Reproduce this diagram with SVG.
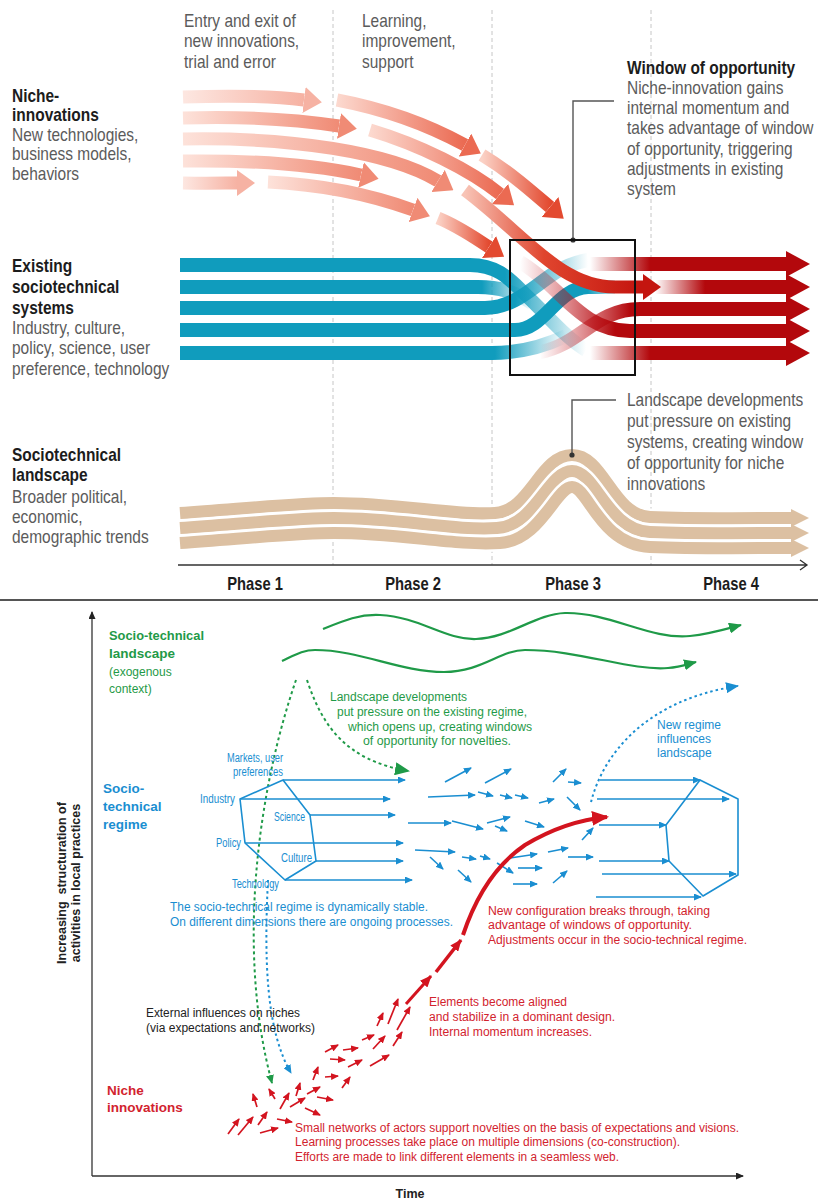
<svg xmlns="http://www.w3.org/2000/svg" width="818" height="1200" viewBox="0 0 818 1200">
<style>
text{font-family:"Liberation Sans",Arial,sans-serif}
.cap{font-size:18px;fill:#5b5b5b}
.hd{font-size:18px;font-weight:bold;fill:#1c1c1c}
.pl{stroke:#c6c6c6;stroke-width:1;stroke-dasharray:4 3}
.leader{fill:none;stroke:#555;stroke-width:1.4}
.band{fill:none;stroke-width:14}
.row{fill:none;stroke-width:14;marker-end:url(#hRow)}
.ni{fill:none;stroke-width:13}
.lgap{fill:none;stroke:#fff;stroke-width:17}
.land{fill:none;stroke:#dcc0a2;stroke-width:12;marker-end:url(#hLand)}
.sm{font-size:12px}
.b13{font-size:13.5px;font-weight:bold}
.b12{font-size:12.5px;font-weight:bold}
.g{fill:#1f9a48}.bl{fill:#1a8ed1}.rd{fill:#d2232e}.bk{fill:#222}
.hex{fill:none;stroke:#1a8ed1;stroke-width:1.6;stroke-linejoin:round}
.ba{fill:none;stroke:#1a8ed1;stroke-width:1.6;marker-end:url(#aBl)}
.ra{fill:none;stroke:#d3141f;stroke-width:1.7;marker-end:url(#aRd)}
.gw{fill:none;stroke:#1f9a48;stroke-width:2.2;marker-end:url(#aGw)}
.gd{fill:none;stroke:#1f9a48;stroke-width:2;stroke-dasharray:3 3}
.bd{fill:none;stroke:#1a8ed1;stroke-width:2;stroke-dasharray:2.5 3}
.axis{fill:none;stroke:#333;stroke-width:1.3}
</style>
<defs>
  <!-- niche-innovation arrow fills -->
  <linearGradient id="gA"><stop offset="0" stop-color="#fde7e1"/><stop offset="1" stop-color="#f6b2a3"/></linearGradient>
  <linearGradient id="gB"><stop offset="0" stop-color="#fde2da"/><stop offset="1" stop-color="#f08b75"/></linearGradient>
  <linearGradient id="gC"><stop offset="0" stop-color="#fcd9cf"/><stop offset="1" stop-color="#eb6a52"/></linearGradient>
  <linearGradient id="gD"><stop offset="0" stop-color="#fbd2c6"/><stop offset="1" stop-color="#e34a30"/></linearGradient>
  <linearGradient id="gE" gradientUnits="userSpaceOnUse" x1="183" y1="0" x2="237" y2="0"><stop offset="0" stop-color="#fde7e1"/><stop offset="1" stop-color="#f6b2a3"/></linearGradient>
  <linearGradient id="gJ" gradientUnits="userSpaceOnUse" x1="465" y1="0" x2="640" y2="0"><stop offset="0" stop-color="#f8c4b6"/><stop offset="0.45" stop-color="#e0452e"/><stop offset="1" stop-color="#c4150f"/></linearGradient>
  <!-- regime rows fading in -->
  <linearGradient id="r1" gradientUnits="userSpaceOnUse" x1="590" y1="0" x2="650" y2="0"><stop offset="0" stop-color="#b3080c" stop-opacity="0"/><stop offset="1" stop-color="#b3080c"/></linearGradient>
  <linearGradient id="r2" gradientUnits="userSpaceOnUse" x1="655" y1="0" x2="705" y2="0"><stop offset="0" stop-color="#b3080c" stop-opacity="0"/><stop offset="1" stop-color="#b3080c"/></linearGradient>
  <linearGradient id="r3" gradientUnits="userSpaceOnUse" x1="540" y1="0" x2="630" y2="0"><stop offset="0" stop-color="#c8202a" stop-opacity="0"/><stop offset="1" stop-color="#b3080c"/></linearGradient>
  <linearGradient id="r4" gradientUnits="userSpaceOnUse" x1="520" y1="0" x2="615" y2="0"><stop offset="0" stop-color="#c8202a" stop-opacity="0"/><stop offset="1" stop-color="#b3080c"/></linearGradient>
  <!-- existing system rows fading out -->
  <linearGradient id="b1" gradientUnits="userSpaceOnUse" x1="505" y1="0" x2="586" y2="0"><stop offset="0" stop-color="#109cbd"/><stop offset="1" stop-color="#109cbd" stop-opacity="0"/></linearGradient>
  <linearGradient id="b2" gradientUnits="userSpaceOnUse" x1="482" y1="0" x2="532" y2="0"><stop offset="0" stop-color="#109cbd"/><stop offset="1" stop-color="#109cbd" stop-opacity="0"/></linearGradient>
  <linearGradient id="b3" gradientUnits="userSpaceOnUse" x1="515" y1="0" x2="588" y2="0"><stop offset="0" stop-color="#109cbd"/><stop offset="1" stop-color="#109cbd" stop-opacity="0"/></linearGradient>
  <linearGradient id="b4" gradientUnits="userSpaceOnUse" x1="588" y1="0" x2="615" y2="0"><stop offset="0" stop-color="#109cbd"/><stop offset="1" stop-color="#109cbd" stop-opacity="0.2"/></linearGradient>
  <linearGradient id="b5" gradientUnits="userSpaceOnUse" x1="495" y1="0" x2="566" y2="0"><stop offset="0" stop-color="#109cbd"/><stop offset="1" stop-color="#109cbd" stop-opacity="0"/></linearGradient>

  <marker id="hA" viewBox="0 0 18 26" refX="0" refY="13" markerWidth="18" markerHeight="26" markerUnits="userSpaceOnUse" orient="auto"><path d="M0,0 L18,13 L0,26z" fill="#f6b2a3"/></marker>
  <marker id="hB" viewBox="0 0 18 26" refX="0" refY="13" markerWidth="18" markerHeight="26" markerUnits="userSpaceOnUse" orient="auto"><path d="M0,0 L18,13 L0,26z" fill="#f08b75"/></marker>
  <marker id="hC" viewBox="0 0 18 26" refX="0" refY="13" markerWidth="18" markerHeight="26" markerUnits="userSpaceOnUse" orient="auto"><path d="M0,0 L18,13 L0,26z" fill="#eb6a52"/></marker>
  <marker id="hD" viewBox="0 0 18 26" refX="0" refY="13" markerWidth="18" markerHeight="26" markerUnits="userSpaceOnUse" orient="auto"><path d="M0,0 L18,13 L0,26z" fill="#e34a30"/></marker>
  <marker id="hJ" viewBox="0 0 18 26" refX="0" refY="13" markerWidth="18" markerHeight="26" markerUnits="userSpaceOnUse" orient="auto"><path d="M0,0 L18,13 L0,26z" fill="#c4150f"/></marker>
  <marker id="hRow" viewBox="0 0 24 26" refX="0" refY="13" markerWidth="24" markerHeight="26" markerUnits="userSpaceOnUse" orient="auto"><path d="M0,0 L24,13 L0,26z" fill="#b3080c"/></marker>
  <marker id="hLand" viewBox="0 0 18 18" refX="0" refY="9" markerWidth="18" markerHeight="18" markerUnits="userSpaceOnUse" orient="auto"><path d="M0,0 L18,9 L0,18z" fill="#dcc0a2"/></marker>

  <marker id="aBl" viewBox="0 0 8 7" refX="7" refY="3.5" markerWidth="8" markerHeight="7" markerUnits="userSpaceOnUse" orient="auto"><path d="M0,0 L8,3.5 L0,7z" fill="#1a8ed1"/></marker>
  <marker id="aRd" viewBox="0 0 8 7" refX="7" refY="3.5" markerWidth="8" markerHeight="7" markerUnits="userSpaceOnUse" orient="auto"><path d="M0,0 L8,3.5 L0,7z" fill="#d3141f"/></marker>
  <marker id="aGw" viewBox="0 0 13 11" refX="12" refY="5.5" markerWidth="13" markerHeight="11" markerUnits="userSpaceOnUse" orient="auto"><path d="M0,0 L13,5.5 L0,11z" fill="#1f9a48"/></marker>
  <marker id="aGd1" viewBox="0 0 15 13" refX="13" refY="6.5" markerWidth="15" markerHeight="13" markerUnits="userSpaceOnUse" orient="auto"><path d="M0,0 L15,6.5 L0,13z" fill="#1f9a48"/></marker>
  <marker id="aGd2" viewBox="0 0 9 8" refX="8" refY="4" markerWidth="9" markerHeight="8" markerUnits="userSpaceOnUse" orient="auto"><path d="M0,0 L9,4 L0,8z" fill="#1f9a48"/></marker>
  <marker id="aBd1" viewBox="0 0 13 11" refX="12" refY="5.5" markerWidth="13" markerHeight="11" markerUnits="userSpaceOnUse" orient="auto"><path d="M0,0 L13,5.5 L0,11z" fill="#1a8ed1"/></marker>
  <marker id="aBd2" viewBox="0 0 9 8" refX="8" refY="4" markerWidth="9" markerHeight="8" markerUnits="userSpaceOnUse" orient="auto"><path d="M0,0 L9,4 L0,8z" fill="#1a8ed1"/></marker>
  <marker id="aRb" viewBox="0 0 17 15" refX="15" refY="7.5" markerWidth="17" markerHeight="15" markerUnits="userSpaceOnUse" orient="auto"><path d="M0,0 L17,7.5 L0,15z" fill="#d3141f"/></marker>
  <marker id="aRm" viewBox="0 0 12 10" refX="11" refY="5" markerWidth="12" markerHeight="10" markerUnits="userSpaceOnUse" orient="auto"><path d="M0,0 L12,5 L0,10z" fill="#d3141f"/></marker>
  <marker id="aAx" viewBox="0 0 8 7" refX="7" refY="3.5" markerWidth="8" markerHeight="7" markerUnits="userSpaceOnUse" orient="auto"><path d="M0,0 L8,3.5 L0,7z" fill="#222"/></marker>
</defs>

<rect width="818" height="1200" fill="#fff"/>

<!-- ===== Upper panel: multi-level perspective by phase ===== -->
<g id="phase-grid">
  <line class="pl" x1="333" y1="10" x2="333" y2="565"/>
  <line class="pl" x1="492" y1="10" x2="492" y2="565"/>
  <line class="pl" x1="651" y1="10" x2="651" y2="565"/>
</g>

<g id="connectors-top">
  <!-- existing sociotechnical systems -->
  <path class="band" stroke="url(#b1)" d="M180,265 H470 C500,265 512,282 528,297 C548,316 566,338 586,350"/>
  <path class="band" stroke="url(#b2)" d="M180,287 H478 C500,287 515,292 532,303"/>
  <path class="band" stroke="url(#b3)" d="M180,308 H485 C515,308 535,285 556,272 C566,266 576,262 588,260"/>
  <path class="band" stroke="url(#b4)" d="M180,330 H515 C545,330 556,288 588,287 H615"/>
  <path class="band" stroke="url(#b5)" d="M180,353 H492 C520,353 545,346 566,336"/>
  <!-- reconfigured system -->
  <path class="row" stroke="url(#r1)" d="M590,264 H786"/>
  <path class="row" stroke="url(#r2)" d="M655,287 H786"/>
  <path class="row" stroke="url(#r3)" d="M540,352 C580,345 595,309 640,309 H786"/>
  <path class="row" stroke="url(#r4)" d="M520,262 C560,285 580,331 630,331 H786"/>
  <path class="row" stroke="url(#r1)" d="M590,353 H786"/>
  <!-- niche-innovations -->
  <path class="ni" stroke="url(#gA)" marker-end="url(#hA)" d="M183,97 C240,95 280,97 304,100"/>
  <path class="ni" stroke="url(#gB)" marker-end="url(#hB)" d="M183,118 C250,116 300,120 339,126"/>
  <path class="ni" stroke="url(#gB)" marker-end="url(#hB)" d="M183,139 C290,137 390,152 438,181"/>
  <path class="ni" stroke="url(#gB)" marker-end="url(#hB)" d="M183,161 C260,160 320,166 361,175"/>
  <path class="ni" stroke="url(#gE)" marker-end="url(#hA)" d="M183,183 C210,183.5 225,183 237,183"/>
  <path class="ni" stroke="url(#gB)" marker-end="url(#hB)" d="M268,182 C330,185 380,198 413,210"/>
  <path class="ni" stroke="url(#gC)" marker-end="url(#hC)" d="M337,100 C390,110 430,126 465,145"/>
  <path class="ni" stroke="url(#gC)" marker-end="url(#hC)" d="M370,130 C420,145 470,170 500,194"/>
  <path class="ni" stroke="url(#gD)" marker-end="url(#hD)" d="M482,155 C510,172 530,190 550,207"/>
  <path class="ni" stroke="url(#gD)" marker-end="url(#hD)" d="M438,218 C458,226 475,238 489,247"/>
  <path class="ni" stroke="url(#gJ)" marker-end="url(#hJ)" d="M465,190 C525,235 560,287 615,287 L643,287"/>
  <!-- sociotechnical landscape -->
  <path class="lgap" d="M180,513 C250,508 300,503 334,503 C400,503 455,516 495,513 C530,511 540,455 572,455 C604,455 612,515 650,517 C700,519 750,518 791,518"/>
  <path class="land" d="M180,513 C250,508 300,503 334,503 C400,503 455,516 495,513 C530,511 540,455 572,455 C604,455 612,515 650,517 C700,519 750,518 791,518"/>
  <path class="lgap" d="M180,528 C250,523 300,518 334,518 C400,518 455,531 497,528 C535,526 548,471 572,471 C596,471 607,530 650,532 C700,534 750,533 791,533"/>
  <path class="land" d="M180,528 C250,523 300,518 334,518 C400,518 455,531 497,528 C535,526 548,471 572,471 C596,471 607,530 650,532 C700,534 750,533 791,533"/>
  <path class="lgap" d="M180,543 C250,538 300,533 334,533 C400,533 455,546 500,543 C540,541 556,487 572,487 C588,487 600,545 650,547 C700,549 750,548 791,548"/>
  <path class="land" d="M180,543 C250,538 300,533 334,533 C400,533 455,546 500,543 C540,541 556,487 572,487 C588,487 600,545 650,547 C700,549 750,548 791,548"/>
  <!-- time axis -->
  <path class="axis" d="M178,565 H807 M800,560 L807,565 L800,570"/>
  <!-- leaders -->
  <path class="leader" d="M573,240 V101 H614"/>
  <circle cx="573" cy="240" r="2.6" fill="#333"/>
  <path class="leader" d="M572,455 V400 H616"/>
  <circle cx="572" cy="455" r="2.6" fill="#333"/>
</g>

<g id="window-box"><rect x="510" y="240" width="125" height="135" fill="none" stroke="#111" stroke-width="2"/></g>

<g id="entry-note"><text class="cap" transform="translate(184,27) scale(0.86,1)"><tspan x="0">Entry and exit of</tspan><tspan x="0" dy="20.5">new innovations,</tspan><tspan x="0" dy="20.5">trial and error</tspan></text></g>
<g id="learning-note"><text class="cap" transform="translate(362,27) scale(0.86,1)"><tspan x="0">Learning,</tspan><tspan x="0" dy="20.5">improvement,</tspan><tspan x="0" dy="20.5">support</tspan></text></g>

<g id="niche-label">
  <text class="hd" transform="translate(12,102) scale(0.86,1)"><tspan x="0">Niche-</tspan><tspan x="0" dy="19.5">innovations</tspan></text>
  <text class="cap" transform="translate(12,141) scale(0.86,1)"><tspan x="0">New technologies,</tspan><tspan x="0" dy="19.5">business models,</tspan><tspan x="0" dy="19.5">behaviors</tspan></text>
</g>
<g id="system-label">
  <text class="hd" transform="translate(12,272) scale(0.86,1)"><tspan x="0">Existing</tspan><tspan x="0" dy="20.8">sociotechnical</tspan><tspan x="0" dy="20.8">systems</tspan></text>
  <text class="cap" transform="translate(12,334) scale(0.86,1)"><tspan x="0">Industry, culture,</tspan><tspan x="0" dy="20.5">policy, science, user</tspan><tspan x="0" dy="20.5">preference, technology</tspan></text>
</g>
<g id="landscape-label">
  <text class="hd" transform="translate(12,461) scale(0.86,1)"><tspan x="0">Sociotechnical</tspan><tspan x="0" dy="20.5">landscape</tspan></text>
  <text class="cap" transform="translate(12,503) scale(0.86,1)"><tspan x="0">Broader political,</tspan><tspan x="0" dy="20">economic,</tspan><tspan x="0" dy="20">demographic trends</tspan></text>
</g>
<g id="window-note">
  <text class="hd" transform="translate(627,74) scale(0.86,1)">Window of opportunity</text>
  <text class="cap" transform="translate(627,94) scale(0.86,1)"><tspan x="0">Niche-innovation gains</tspan><tspan x="0" dy="20.2">internal momentum and</tspan><tspan x="0" dy="20.2">takes advantage of window</tspan><tspan x="0" dy="20.2">of opportunity, triggering</tspan><tspan x="0" dy="20.2">adjustments in existing</tspan><tspan x="0" dy="20.2">system</tspan></text>
</g>
<g id="landscape-note">
  <text class="cap" transform="translate(627,406) scale(0.86,1)"><tspan x="0">Landscape developments</tspan><tspan x="0" dy="21">put pressure on existing</tspan><tspan x="0" dy="21">systems, creating window</tspan><tspan x="0" dy="21">of opportunity for niche</tspan><tspan x="0" dy="21">innovations</tspan></text>
</g>
<g id="phases">
  <text class="hd" text-anchor="middle" transform="translate(255,590) scale(0.82,1)">Phase 1</text>
  <text class="hd" text-anchor="middle" transform="translate(413,590) scale(0.82,1)">Phase 2</text>
  <text class="hd" text-anchor="middle" transform="translate(573,590) scale(0.82,1)">Phase 3</text>
  <text class="hd" text-anchor="middle" transform="translate(731,590) scale(0.82,1)">Phase 4</text>
</g>

<line x1="0" y1="600" x2="818" y2="600" stroke="#555" stroke-width="2"/>

<!-- ===== Lower panel: transition pathway ===== -->
<g id="connectors-bottom">
  <path class="axis" marker-end="url(#aAx)" d="M92,1176 L92,612"/>
  <path class="axis" marker-end="url(#aAx)" d="M92,1176 L743,1176"/>
  <!-- landscape trends -->
  <path class="gw" d="M323,629 C345,620 360,614 380,615 C420,617 445,640 476,639 C510,638 535,614 565,613 C610,612 650,640 690,636 C710,634 726,629 741,625"/>
  <path class="gw" d="M282,661 C295,655 303,650 315,650 C360,650 400,672 444,672 C482,672 500,650 525,650 C580,650 630,671 668,668 C680,667 688,664 696,662"/>
  <path class="gd" marker-end="url(#aGd2)" d="M296,680 C258,790 236,950 272,1083"/>
  <path class="gd" marker-end="url(#aGd1)" d="M307,680 C322,725 345,760 408,771"/>
  <path class="bd" marker-end="url(#aBd1)" d="M591,802 C603,755 645,700 738,686"/>
  <path class="bd" marker-end="url(#aBd2)" d="M268,880 C264,960 266,1030 291,1073"/>
  <!-- regime dimensions -->
  <path class="hex" d="M283,780 L240,799 L245,843 L285,880 L316,861 L310,815 Z"/>
  <path class="ba" d="M283,780 H405"/>
  <path class="ba" d="M240,799 H390"/>
  <path class="ba" d="M310,815 H395"/>
  <path class="ba" d="M245,843 H403"/>
  <path class="ba" d="M316,861 H403"/>
  <path class="ba" d="M285,880 H412"/>
  <!-- regime in flux -->
  <path class="ba" d="M445,782 L471,768"/>
  <path class="ba" d="M485,783 L511,769"/>
  <path class="ba" d="M553,782 L566,769"/>
  <path class="ba" d="M568,782 L581,783"/>
  <path class="ba" d="M428,797 L475,795"/>
  <path class="ba" d="M478,792 L493,796"/>
  <path class="ba" d="M500,795 L512,798"/>
  <path class="ba" d="M515,795 L528,798"/>
  <path class="ba" d="M539,803 L554,799"/>
  <path class="ba" d="M567,797 L580,810"/>
  <path class="ba" d="M408,823 L451,823"/>
  <path class="ba" d="M452,821 L483,829"/>
  <path class="ba" d="M487,823 L510,817"/>
  <path class="ba" d="M495,826 L507,831"/>
  <path class="ba" d="M525,821 L544,827"/>
  <path class="ba" d="M582,840 L593,828"/>
  <path class="ba" d="M415,850 L455,852"/>
  <path class="ba" d="M430,857 L443,869"/>
  <path class="ba" d="M462,857 L476,859"/>
  <path class="ba" d="M480,856 L490,859"/>
  <path class="ba" d="M497,863 L513,873"/>
  <path class="ba" d="M510,858 L537,854"/>
  <path class="ba" d="M548,852 L568,848"/>
  <path class="ba" d="M568,857 L593,857"/>
  <path class="ba" d="M518,868 L542,868"/>
  <path class="ba" d="M458,870 L471,882"/>
  <path class="ba" d="M513,884 L537,884"/>
  <path class="ba" d="M553,883 L567,871"/>
  <!-- new regime -->
  <path class="hex" d="M700,780 L738,799 L738,875 L703,896 L669,861 L666,825 Z"/>
  <path class="ba" d="M600,780 H700"/>
  <path class="ba" d="M597,799 H729"/>
  <path class="ba" d="M599,825 H666"/>
  <path class="ba" d="M599,861 H669"/>
  <path class="ba" d="M602,874 H736"/>
  <path class="ba" d="M596,897 H701"/>
  <!-- niche activity -->
  <path class="ra" d="M228,1134 L239,1119"/>
  <path class="ra" d="M238,1135 L253,1117"/>
  <path class="ra" d="M258,1125 L267,1112"/>
  <path class="ra" d="M260,1133 L278,1128"/>
  <path class="ra" d="M277,1119 L292,1122"/>
  <path class="ra" d="M257,1107 L253,1094"/>
  <path class="ra" d="M275,1099 L269,1089"/>
  <path class="ra" d="M280,1109 L289,1093"/>
  <path class="ra" d="M290,1107 L305,1098"/>
  <path class="ra" d="M296,1096 L300,1083"/>
  <path class="ra" d="M307,1094 L320,1087"/>
  <path class="ra" d="M305,1108 L320,1115"/>
  <path class="ra" d="M317,1097 L333,1100"/>
  <path class="ra" d="M313,1080 L318,1067"/>
  <path class="ra" d="M325,1077 L338,1076"/>
  <path class="ra" d="M342,1088 L350,1077"/>
  <path class="ra" d="M325,1052 L338,1045"/>
  <path class="ra" d="M330,1059 L345,1060"/>
  <path class="ra" d="M343,1050 L358,1048"/>
  <path class="ra" d="M348,1067 L362,1060"/>
  <path class="ra" d="M362,1040 L374,1035"/>
  <path class="ra" d="M370,1066 L389,1055"/>
  <path class="ra" d="M373,1049 L385,1036"/>
  <path class="ra" d="M377,1026 L383,1013"/>
  <path class="ra" d="M388,1024 L398,999"/>
  <path class="ra" d="M393,1046 L402,1032"/>
  <path class="ra" d="M397,1030 L410,1007"/>
  <!-- breakthrough -->
  <path fill="none" stroke="#d3141f" stroke-width="3" marker-end="url(#aRm)" d="M406,1004 L431,976"/>
  <path fill="none" stroke="#d3141f" stroke-width="3.5" marker-end="url(#aRm)" d="M436,972 L461,940"/>
  <path fill="none" stroke="#d3141f" stroke-width="4" marker-end="url(#aRb)" d="M463,935 C478,890 500,862 525,845 C550,830 575,820 607,817"/>
</g>

<g id="axis-labels">
  <text class="b12 bk" text-anchor="middle" transform="translate(66,883) rotate(-90)">Increasing&#160; structuration of</text>
  <text class="b12 bk" text-anchor="middle" transform="translate(80,883) rotate(-90)">activities in local practices</text>
  <text class="b12 bk" text-anchor="middle" x="410" y="1198">Time</text>
</g>

<g id="landscape-level">
  <text class="b13 g" x="109" y="640" textLength="95" lengthAdjust="spacingAndGlyphs">Socio-technical</text>
  <text class="b13 g" x="109" y="658">landscape</text>
  <text class="sm g" x="109" y="676">(exogenous</text>
  <text class="sm g" x="109" y="693">context)</text>
</g>
<g id="landscape-pressure">
  <text class="sm g" x="330" y="701" textLength="137" lengthAdjust="spacingAndGlyphs">Landscape developments</text>
  <text class="sm g" x="337" y="716" textLength="190" lengthAdjust="spacingAndGlyphs">put pressure on the existing regime,</text>
  <text class="sm g" x="348" y="731" textLength="184" lengthAdjust="spacingAndGlyphs">which opens up, creating windows</text>
  <text class="sm g" x="363" y="745" textLength="148" lengthAdjust="spacingAndGlyphs">of opportunity for novelties.</text>
</g>
<g id="new-regime-note">
  <text class="sm bl" x="657" y="729">New regime</text>
  <text class="sm bl" x="657" y="743">influences</text>
  <text class="sm bl" x="657" y="757">landscape</text>
</g>
<g id="regime-level">
  <text class="b13 bl" x="103" y="793">Socio-</text>
  <text class="b13 bl" x="103" y="811">technical</text>
  <text class="b13 bl" x="103" y="829">regime</text>
</g>
<g id="regime-dimensions">
  <text class="sm bl" x="255" y="762" text-anchor="middle" textLength="56" lengthAdjust="spacingAndGlyphs">Markets, user</text>
  <text class="sm bl" x="258" y="776" text-anchor="middle" textLength="50" lengthAdjust="spacingAndGlyphs">preferences</text>
  <text class="sm bl" x="200" y="803" textLength="35" lengthAdjust="spacingAndGlyphs">Industry</text>
  <text class="sm bl" x="274" y="821" textLength="31" lengthAdjust="spacingAndGlyphs">Science</text>
  <text class="sm bl" x="216" y="847" textLength="25" lengthAdjust="spacingAndGlyphs">Policy</text>
  <text class="sm bl" x="281" y="862" textLength="31" lengthAdjust="spacingAndGlyphs">Culture</text>
  <text class="sm bl" x="232" y="888" textLength="47" lengthAdjust="spacingAndGlyphs">Technology</text>
</g>
<g id="regime-note">
  <text class="sm bl" x="170" y="911" textLength="258" lengthAdjust="spacingAndGlyphs">The socio-technical regime is dynamically stable.</text>
  <text class="sm bl" x="170" y="926" textLength="283" lengthAdjust="spacingAndGlyphs">On different dimensions there are ongoing processes.</text>
</g>
<g id="breakthrough-note">
  <text class="sm rd" x="488" y="915" textLength="222" lengthAdjust="spacingAndGlyphs">New configuration breaks through, taking</text>
  <text class="sm rd" x="488" y="929" textLength="204" lengthAdjust="spacingAndGlyphs">advantage of windows of opportunity.</text>
  <text class="sm rd" x="488" y="944" textLength="259" lengthAdjust="spacingAndGlyphs">Adjustments occur in the socio-technical regime.</text>
</g>
<g id="alignment-note">
  <text class="sm rd" x="429" y="1006" textLength="138" lengthAdjust="spacingAndGlyphs">Elements become aligned</text>
  <text class="sm rd" x="429" y="1021" textLength="186" lengthAdjust="spacingAndGlyphs">and stabilize in a dominant design.</text>
  <text class="sm rd" x="429" y="1036" textLength="163" lengthAdjust="spacingAndGlyphs">Internal momentum increases.</text>
</g>
<g id="external-note">
  <text class="sm bk" x="146" y="1017" textLength="154" lengthAdjust="spacingAndGlyphs">External influences on niches</text>
  <text class="sm bk" x="146" y="1032" textLength="169" lengthAdjust="spacingAndGlyphs">(via expectations and networks)</text>
</g>
<g id="niche-level">
  <text class="b13 rd" x="107" y="1095">Niche</text>
  <text class="b13 rd" x="107" y="1112">innovations</text>
</g>
<g id="niche-note">
  <text class="sm rd" x="295" y="1132" textLength="444" lengthAdjust="spacingAndGlyphs">Small networks of actors support novelties on the basis of expectations and visions.</text>
  <text class="sm rd" x="295" y="1146" textLength="385" lengthAdjust="spacingAndGlyphs">Learning processes take place on multiple dimensions (co-construction).</text>
  <text class="sm rd" x="295" y="1161" textLength="324" lengthAdjust="spacingAndGlyphs">Efforts are made to link different elements in a seamless web.</text>
</g>
</svg>
